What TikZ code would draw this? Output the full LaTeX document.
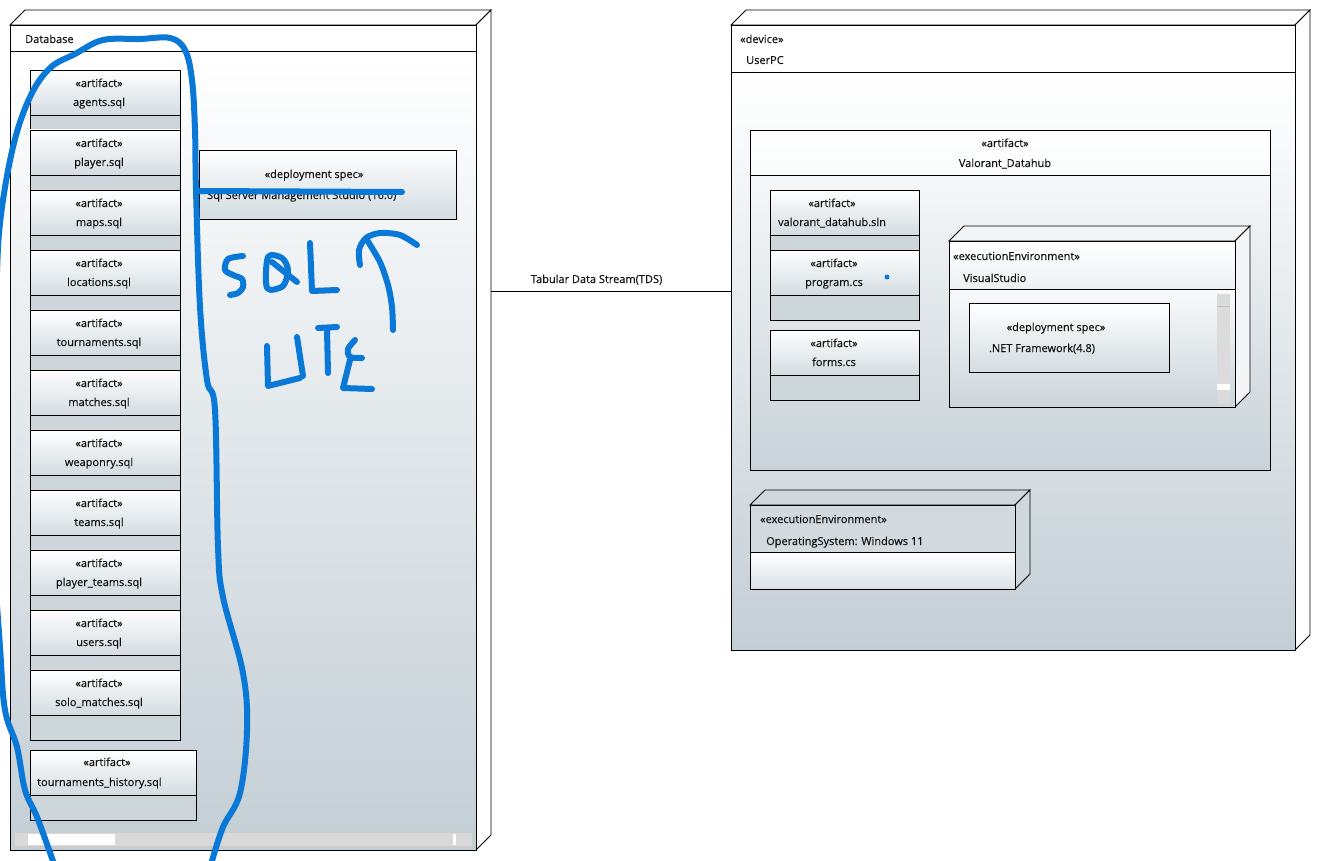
\documentclass[tikz,border=0pt]{standalone}
\usepackage{fontspec}
\setmainfont{Open Sans}[FakeBold=0.35]
\definecolor{bgbot}{HTML}{C3CED5}
\definecolor{hdrbot}{HTML}{D3DCE1}
\definecolor{cmpfill}{HTML}{CCD6DB}
\definecolor{ink}{HTML}{141414}
\definecolor{penblue}{HTML}{0A78D7}
\definecolor{sbar}{HTML}{D9D9D9}
\tikzset{
  boxline/.style={draw=black, line width=0.9pt},
  txt/.style={font=\fontsize{11}{13}\selectfont, text=ink, inner sep=0pt},
  penline/.style={draw=penblue, line width=6pt, line cap=round, line join=round},
}
\newcommand\artf[8]{%
  \shade[top color=white,bottom color=hdrbot] (#2,#3) rectangle (#4,#5);
  \fill[cmpfill] (#2,#5) rectangle (#4,#6);
  \draw[boxline] (#2,#3) rectangle (#4,#6) (#2,#5) -- (#4,#5);
  \node[txt, anchor=base] (#1s) at (#7,#3+17) {«artifact»};
  \node[txt, anchor=base] (#1) at (#7,#3+36) {#8};
}
\newcommand\threed[6]{%
  \filldraw[boxline, fill=#6] (#1,#2) -- (#1+#5,#2-#5) -- (#3+#5,#2-#5) -- (#3,#2) -- cycle;
  \filldraw[boxline, fill=#6] (#3,#2) -- (#3+#5,#2-#5) -- (#3+#5,#4-#5) -- (#3,#4) -- cycle;
}
\begin{document}
\begin{tikzpicture}[x=1pt,y=-1pt]
\useasboundingbox (0,0) rectangle (1321,861);
\fill[white] (0,0) rectangle (1321,861);

% ---------------- Database node ----------------
\threed{10}{25}{476}{850}{15}{white}
\fill[white] (10,25) rectangle (476,51);
\shade[top color=white,bottom color=bgbot] (10,51) rectangle (476,850);
\node[boxline, fill=none, inner sep=0pt, minimum width=466pt, minimum height=825pt, anchor=north west] (db) at (10,25) {};
\draw[boxline] (10,51) -- (476,51);
\node[txt, anchor=base west] (dbname) at (25,43) {Database};

\artf{agents}{30}{70}{180}{115}{130}{99}{agents.sql}
\artf{player}{30}{130}{180}{175}{190}{99}{player.sql}
\artf{maps}{30}{190}{180}{235}{250}{99}{maps.sql}
\artf{locations}{30}{250}{180}{295}{310}{99}{locations.sql}
\artf{tournaments}{30}{310}{180}{355}{370}{99}{tournaments.sql}
\artf{matches}{30}{370}{180}{415}{430}{99}{matches.sql}
\artf{weaponry}{30}{430}{180}{475}{490}{99}{weaponry.sql}
\artf{teams}{30}{490}{180}{535}{550}{99}{teams.sql}
\artf{playerteams}{30}{550}{180}{595}{610}{99}{player\_teams.sql}
\artf{users}{30}{610}{180}{655}{670}{99}{users.sql}
\artf{solomatches}{30}{670}{180}{715}{740}{99}{solo\_matches.sql}

% tournaments_history
\shade[top color=white,bottom color=hdrbot] (30,750) rectangle (196,795);
\fill[cmpfill] (30,795) rectangle (196,820);
\draw[boxline] (30,750) rectangle (196,820) (30,795) -- (196,795);
\node[txt, anchor=base] (ths) at (107,766) {«artifact»};
\node[txt, anchor=base west] (th) at (37,786) {tournaments\_history.sql};

% deployment spec (SSMS)
\shade[top color=white,bottom color=hdrbot] (199,150) rectangle (456,219);
\draw[boxline] (199,150) rectangle (456,219);
\node[txt, anchor=base] (ssmss) at (314,178) {«deployment spec»};
\node[txt, anchor=base west] (ssms) at (207,199) {Sql Server Management Studio (16.0)};

% scrollbar
\filldraw[fill=sbar, draw=black!20, line width=0.6pt] (14,832) rectangle (472,846);
\fill[white] (28,834) rectangle (115,845);
\fill[white] (453,834) rectangle (456,845);

% ---------------- UserPC node ----------------
\threed{731}{25}{1295}{650}{15}{white}
\fill[white] (731,25) rectangle (1295,72);
\shade[top color=white,bottom color=bgbot] (731,72) rectangle (1295,650);
\node[boxline, fill=none, inner sep=0pt, minimum width=564pt, minimum height=625pt, anchor=north west] (pc) at (731,25) {};
\draw[boxline] (731,72) -- (1295,72);
\node[txt, anchor=base west] (pcs) at (740,43) {«device»};
\node[txt, anchor=base west] (pcname) at (746,64) {UserPC};

% Valorant_Datahub artifact
\shade[top color=white,bottom color=white!92!bgbot] (750,130) rectangle (1270,175);
\shade[top color=white!85!bgbot,bottom color=white!10!bgbot] (750,175) rectangle (1270,470);
\draw[boxline] (750,130) rectangle (1270,470) (750,175) -- (1270,175);
\node[txt, anchor=base] (vds) at (1005,147) {«artifact»};
\node[txt, anchor=base] (vd) at (1005,167) {Valorant\_Datahub};

\artf{sln}{770}{190}{919}{235}{250}{832}{valorant\_datahub.sln}
\artf{prog}{770}{250}{919}{295}{320}{834}{program.cs}
\artf{forms}{770}{330}{919}{375}{400}{834}{forms.cs}
\fill[penblue] (887,277) circle[radius=2.5pt];

% VisualStudio execution environment
\threed{949}{241}{1235}{407}{15}{white!80!bgbot}
\shade[top color=white,bottom color=white!70!bgbot] (949,241) rectangle (1235,289);
\shade[top color=white!90!bgbot,bottom color=white!15!bgbot] (949,289) rectangle (1235,407);
\draw[boxline] (949,241) rectangle (1235,407) (949,289) -- (1235,289);
\node[txt, anchor=base west] (vss) at (953,260) {«executionEnvironment»};
\node[txt, anchor=base west] (vs) at (963,282) {VisualStudio};
\fill[black!14] (1217,294) rectangle (1230,403);
\draw[black!25, line width=0.6pt] (1217,306) -- (1230,306);
\fill[white] (1217,384) rectangle (1230,390);

% .NET deployment spec
\shade[top color=white,bottom color=hdrbot] (969,303) rectangle (1169,372);
\draw[boxline] (969,303) rectangle (1169,372);
\node[txt, anchor=base] (nets) at (1056,331) {«deployment spec»};
\node[txt, anchor=base] (net) at (1042,352) {.NET Framework(4.8)};

% OperatingSystem execution environment
\threed{750}{505}{1015}{589}{15}{white!20!bgbot}
\fill[white!25!bgbot] (750,505) rectangle (1015,552);
\shade[top color=white,bottom color=white!40!bgbot] (750,552) rectangle (1015,589);
\draw[boxline] (750,505) rectangle (1015,589) (750,552) -- (1015,552);
\node[txt, anchor=base west] (oss) at (760,523) {«executionEnvironment»};
\node[txt, anchor=base west] (os) at (766,545) {OperatingSystem: Windows 11};

% ---------------- connector ----------------
\coordinate (tdsL) at (491,291);
\coordinate (tdsR) at (731,291);
\draw[line width=0.9pt] (tdsL) -- node[txt, pos=0.44, anchor=base, yshift=8pt] (tds) {Tabular Data Stream(TDS)} (tdsR);

% ---------------- handwriting ----------------
\begin{scope}
\clip (0,0) rectangle (1321,861);
\draw[penline] plot[smooth, tension=0.6] coordinates {(53,861) (37,817) (25,790) (17,747) (5,710) (0,647) (-8,520) (-8,400) (-4,300) (0,223) (13,147) (30,97) (50,68) (75,54) (103,40) (140,39) (170,38) (185,50) (192,80) (195,130) (196,190) (200,307) (207,380) (215,410) (218,547) (223,597) (243,673) (247,730) (240,793) (223,827) (212,861)};
\draw[penline] (198,191) -- (402,192);
% S
\draw[penline] plot[smooth] coordinates {(243,256) (228,259) (225,270) (233,275) (242,279) (243,287) (238,293) (230,295)};
% Q
\draw[penline] plot[smooth cycle] coordinates {(268,257) (282,258) (288,270) (283,286) (267,288)};
\draw[penline] (272,262) -- (297,282);
% L
\draw[penline] (310,243) -- (312,291) -- (337,290);
% arrow
\draw[penline] plot[smooth] coordinates {(360,265) (359,250) (366,238) (380,233) (400,235) (417,245)};
\draw[penline] plot[smooth] coordinates {(367,240) (380,262) (388,285) (392,307) (393,330)};
% LITE
\draw[penline] (267,346) -- (268,386) -- (300,378);
\draw[penline] (297,337) -- (303,376);
\draw[penline] (318,328) -- (337,327);
\draw[penline] (327,330) -- (328,373);
\draw[penline] plot[smooth] coordinates {(355,340) (348,349) (350,357) (362,358)};
\draw[penline] (350,360) -- (343,388) -- (372,389);
\end{scope}
\end{tikzpicture}
\end{document}
